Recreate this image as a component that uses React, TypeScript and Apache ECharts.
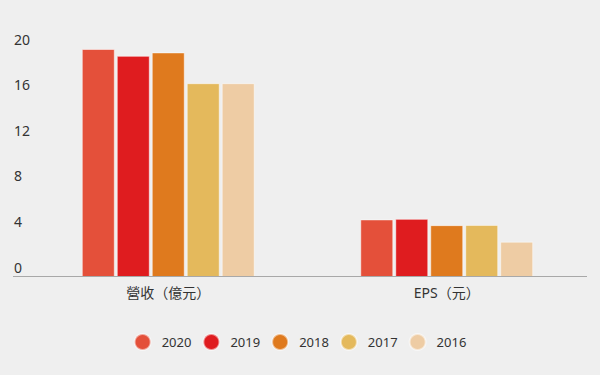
import React, { useEffect, useRef } from "react";
import * as echarts from "echarts";

const categories = ["營收（億元）", "EPS（元）"];
const seriesNames = ["2020", "2019", "2018", "2017", "2016"];
const values2020 = [20.0, 5.05];
const values2019 = [19.4, 5.1];
const values2018 = [19.7, 4.55];
const values2017 = [17.0, 4.57];
const values2016 = [17.0, 3.1];
const yTicks = { min: 0, max: 20, interval: 4 };
const colors = ["#e4503a", "#df1c1f", "#df7a1e", "#e4b95c", "#eecca4"];

const FONT = "'Noto Sans', 'Noto Sans CJK TC', sans-serif";

export default function App() {
  const ref = useRef<HTMLDivElement>(null);
  useEffect(() => {
    if (!ref.current) return;
    const chart = echarts.init(ref.current, null, { renderer: "svg" });
    const data = [values2020, values2019, values2018, values2017, values2016];
    chart.setOption({
      animation: false,
      backgroundColor: "#efefef",
      textStyle: { fontFamily: FONT },
      grid: { left: 29, right: 14, top: 49, bottom: 98 },
      legend: {
        top: 328,
        left: "center",
        icon: "circle",
        itemWidth: 16,
        itemHeight: 16,
        itemGap: 11,
        data: seriesNames,
        textStyle: { color: "#333", fontSize: 13, fontFamily: FONT, padding: [0, 0, 0, 6] },
      },
      xAxis: {
        type: "category",
        data: categories,
        axisLine: { show: false },
        axisTick: { show: false },
        axisLabel: { color: "#333", fontSize: 14, margin: 8, fontFamily: FONT },
      },
      yAxis: {
        type: "value",
        min: yTicks.min,
        max: yTicks.max,
        interval: yTicks.interval,
        splitLine: { show: false },
        axisLine: { show: false },
        axisTick: { show: false },
        axisLabel: {
          color: "#333",
          fontSize: 14,
          align: "left",
          margin: 15,
          verticalAlign: "bottom",
          padding: [0, 0, 3, 0],
          fontFamily: FONT,
        },
      },
      graphic: [
        {
          type: "line",
          shape: { x1: 13, y1: 276.5, x2: 587, y2: 276.5 },
          style: { stroke: "#a8a8a8", lineWidth: 1 },
          z: 10,
        },
      ],
      series: seriesNames.map((name, i) => ({
        name,
        type: "bar",
        data: data[i],
        barWidth: 33,
        barGap: "6%",
        itemStyle: {
          color: colors[i],
          borderColor: "rgba(255,255,255,0.5)",
          borderWidth: 1,
        },
      })),
    });
    return () => chart.dispose();
  }, []);
  return (
    <div
      ref={ref}
      style={{ position: "fixed", left: 0, top: 0, width: 600, height: 375 }}
    />
  );
}
